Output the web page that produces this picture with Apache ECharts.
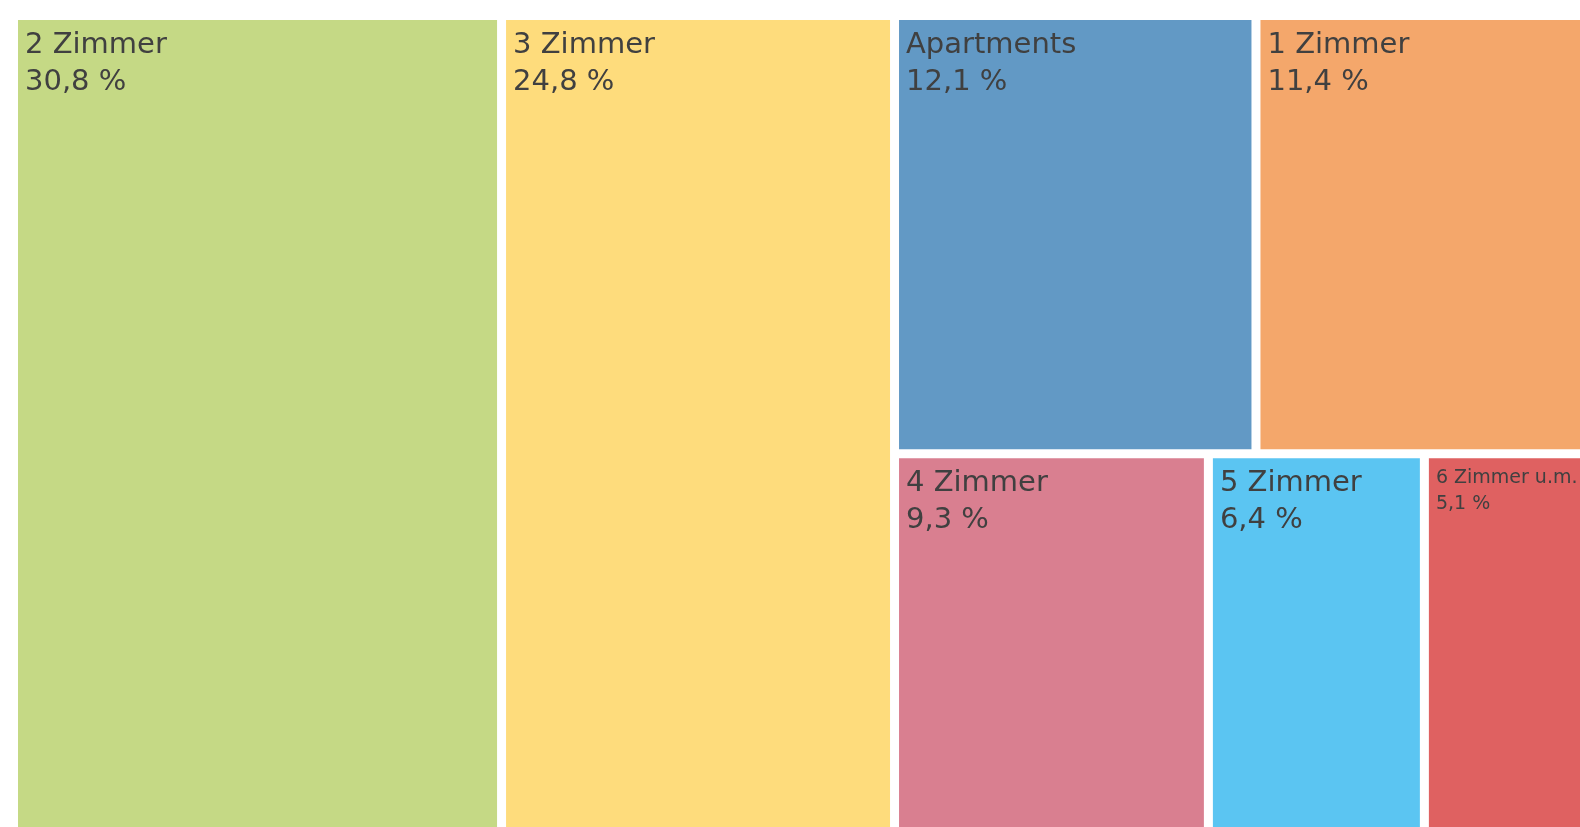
<!DOCTYPE html>
<html>
<head>
<meta charset="utf-8">
<script src="https://cdn.jsdelivr.net/npm/echarts@6/dist/echarts.min.js"></script>
<style>
html, body { margin: 0; padding: 0; background: #fff; overflow: hidden; }
#chart { width: 1600px; height: 850px; }
</style>
</head>
<body>
<div id="chart"></div>
<script>
const categories = ['2 Zimmer', '3 Zimmer', 'Apartments', '1 Zimmer', '4 Zimmer', '5 Zimmer', '6 Zimmer u.m.'];
const shares = [30.8, 24.8, 12.1, 11.4, 9.3, 6.4, 5.1];
const colors = ['#c5d985', '#fedc7c', '#6299c5', '#f4a76b', '#d97f90', '#5bc5f2', '#df6161'];

const fmt = v => v.toFixed(1).replace('.', ',') + ' %';

const data = categories.map((name, i) => {
  const small = name === '6 Zimmer u.m.';
  return {
    name: name,
    value: shares[i],
    itemStyle: { color: colors[i] },
    label: small ? { fontSize: 19, lineHeight: 26 } : {}
  };
});

const chart = echarts.init(document.getElementById('chart'), null, { renderer: 'canvas' });
chart.setOption({
  animation: false,
  series: [{
    type: 'treemap',
    left: 18,
    top: 20,
    width: 1574,
    height: 817,
    roam: false,
    nodeClick: false,
    squareRatio: 1,
    sort: false,
    breadcrumb: { show: false },
    itemStyle: { borderWidth: 0, gapWidth: 9, borderColor: '#fff' },
    levels: [{ itemStyle: { borderWidth: 0, gapWidth: 9 } }],
    label: {
      show: true,
      position: 'insideTopLeft',
      padding: [7, 7, 7, 7],
      fontFamily: 'DejaVu Sans',
      fontSize: 29,
      lineHeight: 37,
      color: '#404040',
      overflow: 'none',
      formatter: p => p.name + '\n' + fmt(p.value)
    },
    emphasis: { disabled: true },
    data: data
  }]
});
</script>
</body>
</html>
